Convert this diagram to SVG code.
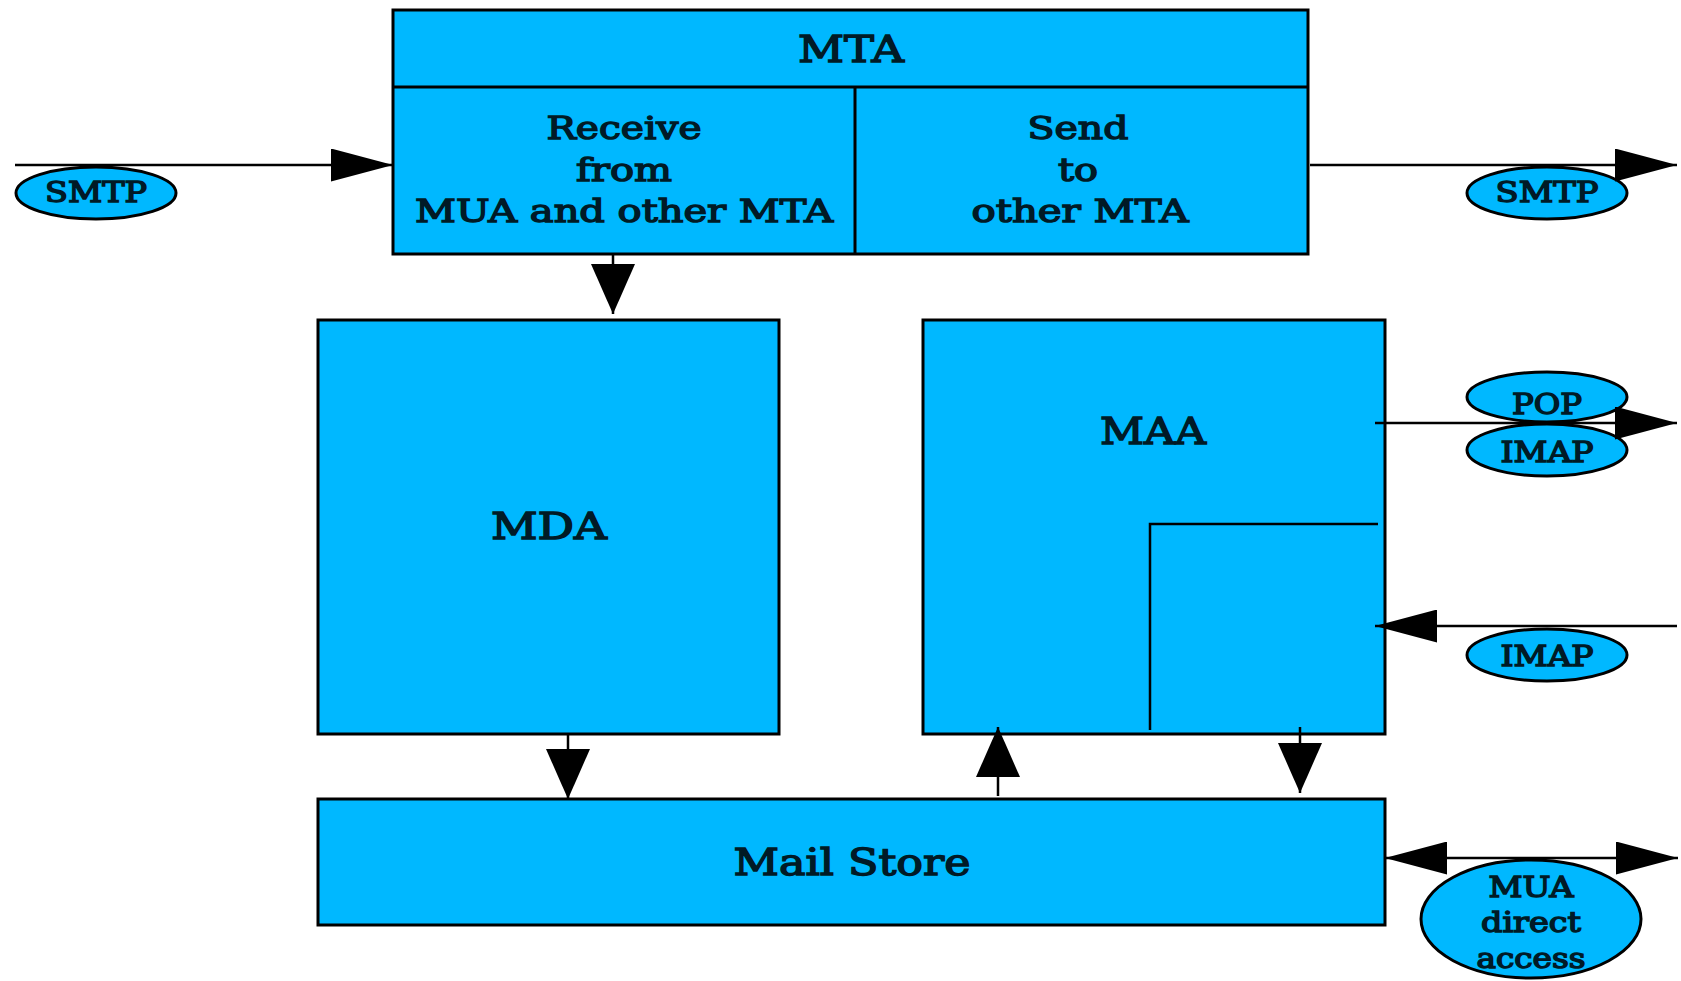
<svg xmlns="http://www.w3.org/2000/svg" width="1681" height="981" viewBox="0 0 1681 981">
<style>
.box{fill:#00b8ff;stroke:#000;stroke-width:3}
.div{stroke:#000;stroke-width:3;fill:none}
.lbl{fill:#00b8ff;stroke:#000;stroke-width:3}
.t{font-family:"DejaVu Serif","Liberation Serif",serif;font-weight:normal;fill:#001a26;stroke:#001a26;stroke-width:1.4;text-anchor:middle}
.big{font-size:37px}
.mid{font-size:31px}
.sm{font-size:27px}
.c{stroke:#000;stroke-width:2.5;fill:none}
.h{marker-end:url(#ah)}
.v{marker-end:url(#av)}
.d{marker-start:url(#ah);marker-end:url(#ah)}
</style>
<defs>
<marker id="ah" viewBox="0 0 62 33" refX="62" refY="16.5" markerWidth="62" markerHeight="33" markerUnits="userSpaceOnUse" orient="auto-start-reverse"><path d="M0,0 L62,16.5 L0,33 z" fill="#000"/></marker>
<marker id="av" viewBox="0 0 50 44" refX="50" refY="22" markerWidth="50" markerHeight="44" markerUnits="userSpaceOnUse" orient="auto"><path d="M0,0 L50,22 L0,44 z" fill="#000"/></marker>
</defs>
<rect width="1681" height="981" fill="#fff"/>
<g id="mta">
<rect class="box" x="393" y="10" width="915" height="244"/>
<path class="div" d="M393,87 H1308 M855,87 V254"/>
<text class="t big" x="851" y="62" textLength="106" lengthAdjust="spacingAndGlyphs">MTA</text>
<text class="t mid" x="624" y="139" textLength="155" lengthAdjust="spacingAndGlyphs">Receive</text>
<text class="t mid" x="624" y="181" textLength="96" lengthAdjust="spacingAndGlyphs">from</text>
<text class="t mid" x="624" y="222" textLength="418" lengthAdjust="spacingAndGlyphs">MUA and other MTA</text>
<text class="t mid" x="1078" y="139" textLength="101" lengthAdjust="spacingAndGlyphs">Send</text>
<text class="t mid" x="1078" y="181" textLength="40" lengthAdjust="spacingAndGlyphs">to</text>
<text class="t mid" x="1080" y="222" textLength="217" lengthAdjust="spacingAndGlyphs">other MTA</text>
</g>
<g id="mda">
<rect class="box" x="318" y="320" width="461" height="414"/>
<text class="t big" x="549" y="539" textLength="116" lengthAdjust="spacingAndGlyphs">MDA</text>
</g>
<g id="maa">
<rect class="box" x="923" y="320" width="462" height="414"/>
<path class="c" d="M1150,730 V524 H1378"/>
<text class="t big" x="1153" y="444" textLength="106" lengthAdjust="spacingAndGlyphs">MAA</text>
</g>
<g id="mailstore">
<rect class="box" x="318" y="799" width="1067" height="126"/>
<text class="t big" x="852" y="875" textLength="237" lengthAdjust="spacingAndGlyphs">Mail Store</text>
</g>
<g id="smtp-in">
<ellipse class="lbl" cx="96" cy="193" rx="80" ry="26"/>
<text class="t sm" x="96" y="202" textLength="102" lengthAdjust="spacingAndGlyphs">SMTP</text>
</g>
<g id="smtp-out">
<ellipse class="lbl" cx="1547" cy="193" rx="80" ry="26"/>
<text class="t sm" x="1547" y="202" textLength="103" lengthAdjust="spacingAndGlyphs">SMTP</text>
</g>
<g id="pop">
<ellipse class="lbl" cx="1547" cy="397" rx="80" ry="25"/>
<text class="t sm" x="1547" y="414" textLength="70" lengthAdjust="spacingAndGlyphs">POP</text>
</g>
<g id="imap-out">
<ellipse class="lbl" cx="1547" cy="450" rx="80" ry="26"/>
<text class="t sm" x="1547" y="462" textLength="93" lengthAdjust="spacingAndGlyphs">IMAP</text>
</g>
<g id="imap-in">
<ellipse class="lbl" cx="1547" cy="655" rx="80" ry="26"/>
<text class="t sm" x="1547" y="666" textLength="93" lengthAdjust="spacingAndGlyphs">IMAP</text>
</g>
<g id="mua-direct">
<ellipse class="lbl" cx="1531" cy="919" rx="110" ry="59"/>
<text class="t sm" x="1531" y="897" textLength="85" lengthAdjust="spacingAndGlyphs">MUA</text>
<text class="t sm" x="1531" y="932" textLength="100" lengthAdjust="spacingAndGlyphs">direct</text>
<text class="t sm" x="1531" y="968" textLength="109" lengthAdjust="spacingAndGlyphs">access</text>
</g>
<g id="connectors">
<path class="c h" d="M15,165 H393"/>
<path class="c h" d="M1310,165 H1677"/>
<path class="c v" d="M613,254 V314"/>
<path class="c v" d="M568,734 V799"/>
<path class="c v" d="M998,796 V727"/>
<path class="c v" d="M1300,727 V793"/>
<path class="c h" d="M1375,423 H1677"/>
<path class="c h" d="M1677,626 H1375"/>
<path class="c d" d="M1385,858 H1678"/>
</g>
</svg>
